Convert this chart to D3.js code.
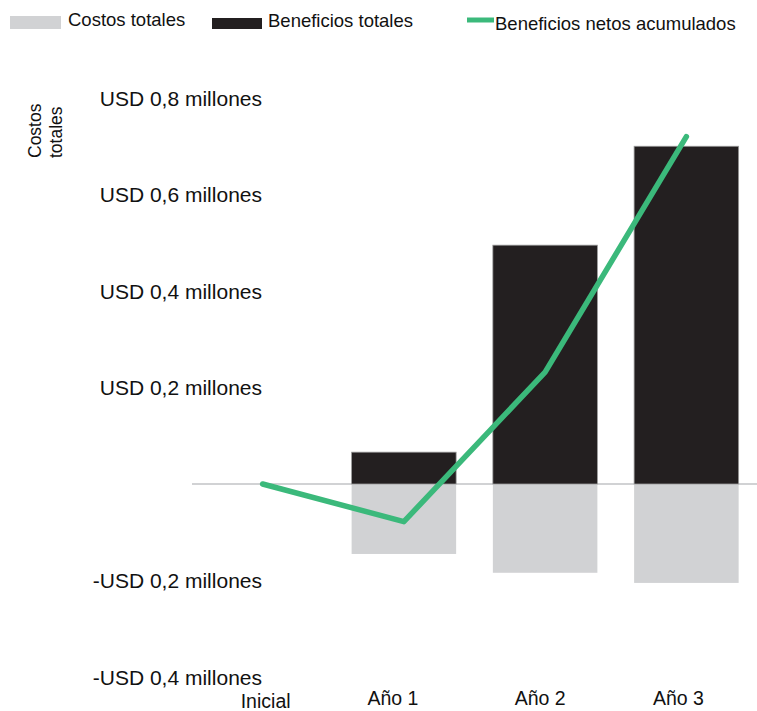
<!DOCTYPE html>
<html>
<head>
<meta charset="utf-8">
<script src="https://cdn.jsdelivr.net/npm/d3@7"></script>
<style>
  body { margin: 0; background: #fff; }
  text { font-family: "Liberation Sans", Arial, sans-serif; fill: #111; }
</style>
</head>
<body>
<div id="chart"></div>
<script>
// data (USD millions)
const periods = ["Inicial", "Año 1", "Año 2", "Año 3"];
const totalCosts = [0, -0.145, -0.184, -0.205];
const totalBenefits = [0, 0.066, 0.495, 0.70];
const cumulativeNet = [0, -0.078, 0.232, 0.72];
const tickValues = [-0.4, -0.2, 0.2, 0.4, 0.6, 0.8];
const tickLabels = ["-USD 0,4 millones", "-USD 0,2 millones", "USD 0,2 millones",
  "USD 0,4 millones", "USD 0,6 millones", "USD 0,8 millones"];
const legendLabels = ["Costos totales", "Beneficios totales", "Beneficios netos acumulados"];

const W = 757, H = 711;
const grey = "#d1d2d4", black = "#231f20", green = "#3bb97b";

const svg = d3.select("#chart").append("svg")
  .attr("width", W)
  .attr("height", H);

// scales
const x = d3.scaleBand()
  .domain(periods)
  .range([192, 757])
  .paddingInner(0.26)
  .paddingOuter(0.13);

const y = d3.scaleLinear()
  .domain([-0.4, 0.8])
  .range([677, 98]);

// zero line
svg.append("line")
  .attr("x1", 192)
  .attr("x2", W)
  .attr("y1", y(0))
  .attr("y2", y(0))
  .attr("stroke", grey)
  .attr("stroke-width", 2);

// cost bars (down)
svg.selectAll(".cost")
  .data(periods.filter((d, i) => totalCosts[i] !== 0))
  .enter()
  .append("rect")
  .attr("class", "cost")
  .attr("x", d => x(d))
  .attr("y", y(0))
  .attr("width", x.bandwidth())
  .attr("height", d => y(totalCosts[periods.indexOf(d)]) - y(0))
  .attr("fill", grey);

// benefit bars (up)
svg.selectAll(".benefit")
  .data(periods.filter((d, i) => totalBenefits[i] !== 0))
  .enter()
  .append("rect")
  .attr("class", "benefit")
  .attr("x", d => x(d))
  .attr("y", d => y(totalBenefits[periods.indexOf(d)]))
  .attr("width", x.bandwidth())
  .attr("height", d => y(0) - y(totalBenefits[periods.indexOf(d)]))
  .attr("fill", black)
  .attr("stroke", "#9a9a9a")
  .attr("stroke-width", 0.8);

// cumulative net line
const line = d3.line()
  .x((d, i) => x(periods[i]) + x.bandwidth() / 2)
  .y(d => y(d));

svg.append("path")
  .datum(cumulativeNet)
  .attr("d", line)
  .attr("fill", "none")
  .attr("stroke", green)
  .attr("stroke-width", 5.5)
  .attr("stroke-linecap", "round")
  .attr("stroke-linejoin", "round");

// y axis labels
const yAxis = svg.append("g")
  .attr("transform", "translate(262,0)")
  .call(d3.axisLeft(y).tickValues(tickValues).tickSize(0).tickPadding(0)
    .tickFormat((d, i) => tickLabels[i]));
yAxis.select(".domain").remove();
yAxis.selectAll("text")
  .attr("font-family", "Liberation Sans, Arial, sans-serif")
  .attr("font-size", 21)
  .attr("fill", "#111")
  .attr("dy", "0.35em");

// x axis labels
const nudge = {"Inicial": [3, 2], "Año 1": [-11, -1], "Año 2": [-5, -1], "Año 3": [-8, -1]};
const xAxis = svg.append("g")
  .attr("transform", "translate(0,706)")
  .call(d3.axisBottom(x).tickSize(0).tickPadding(0));
xAxis.select(".domain").remove();
xAxis.selectAll("text")
  .attr("font-family", "Liberation Sans, Arial, sans-serif")
  .attr("font-size", 19.5)
  .attr("fill", "#111")
  .attr("dy", 0)
  .attr("x", d => nudge[d][0])
  .attr("y", d => nudge[d][1]);

// y title
const yTitle = svg.append("g");
yTitle.append("text")
  .attr("transform", "translate(41,158) rotate(-90)")
  .attr("font-size", 17.5)
  .text("Costos");
yTitle.append("text")
  .attr("transform", "translate(62,158) rotate(-90)")
  .attr("font-size", 17.5)
  .text("totales");

// legend
const legend = svg.append("g").attr("font-size", 18.5);
legend.append("rect")
  .attr("x", 10).attr("y", 16).attr("width", 51).attr("height", 13)
  .attr("fill", grey);
legend.append("text").attr("x", 68).attr("y", 26).text(legendLabels[0]);
legend.append("rect")
  .attr("x", 212).attr("y", 18).attr("width", 50).attr("height", 11)
  .attr("fill", black);
legend.append("text").attr("x", 268).attr("y", 27).text(legendLabels[1]);
legend.append("line")
  .attr("x1", 467).attr("x2", 494).attr("y1", 20).attr("y2", 20)
  .attr("stroke", green).attr("stroke-width", 5);
legend.append("text").attr("x", 495).attr("y", 30).text(legendLabels[2]);
</script>
</body>
</html>
